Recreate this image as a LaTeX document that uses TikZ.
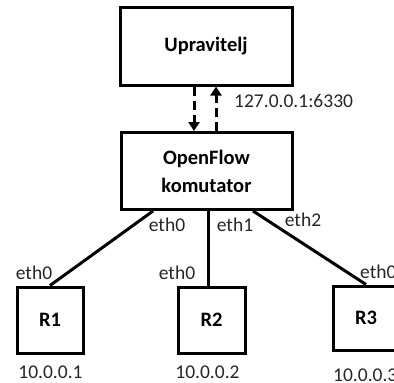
\documentclass[tikz,border=0pt]{standalone}
\usepackage{fontspec}
\setmainfont{Carlito}
\usetikzlibrary{arrows.meta,calc}
\begin{document}
\begin{tikzpicture}[x=1pt,y=-1pt,
  box/.style={draw=black,line width=3pt,inner sep=0pt,font=\fontsize{20.5}{28}\selectfont\bfseries,align=center},
  lbl/.style={inner sep=0pt,font=\fontsize{19.5}{22}\selectfont,text=black!85},
  link/.style={line width=3pt},
  ctl/.style={line width=3pt,dash pattern=on 9pt off 5pt,-{Triangle[width=11pt,length=9pt]}}]
\useasboundingbox (0,0) rectangle (394,383);
\clip (0,0) rectangle (394,383);
\node[box,minimum width=172pt,minimum height=78pt] (up) at (206,46) {Upravitelj};
\node[box,minimum width=171pt,minimum height=77pt] (of) at (206.5,171) {OpenFlow\\komutator};
\node[box,minimum width=66pt,minimum height=66pt] (r1) at (50,320) {R1};
\node[box,minimum width=67pt,minimum height=66pt] (r2) at (211.5,320) {R2};
\node[box,minimum width=66pt,minimum height=64pt] (r3) at (366,318) {R3};
\draw[ctl] ($(up.south)+(-12,0)$) -- ($(of.north)+(-12.5,0)$);
\draw[ctl] ($(of.north)+(9.5,0)$) -- ($(up.south)+(10,0)$);
\node[lbl,anchor=west] (ip) at (234,101) {127.0.0.1:6330};
\draw[link] (r1.north) -- ($(of.south)+(-53.5,0)$);
\draw[link] (r2.north -| 208,0) -- (of.south -| 208,0);
\draw[link] (r3.north) -- ($(of.south)+(46.5,0)$);
\node[lbl] (e1) at (167,225) {eth0};
\node[lbl] (e2) at (235,225) {eth1};
\node[lbl] (e3) at (303,220) {eth2};
\node[lbl] (r1e) at (34,273) {eth0};
\node[lbl] (r2e) at (177,273) {eth0};
\node[lbl,anchor=west] (r3e) at (360,272) {eth0};
\node[lbl] (ip1) at (50.5,372) {10.0.0.1};
\node[lbl] (ip2) at (207.5,372) {10.0.0.2};
\node[lbl,anchor=west] (ip3) at (333,375) {10.0.0.3};
\end{tikzpicture}
\end{document}
